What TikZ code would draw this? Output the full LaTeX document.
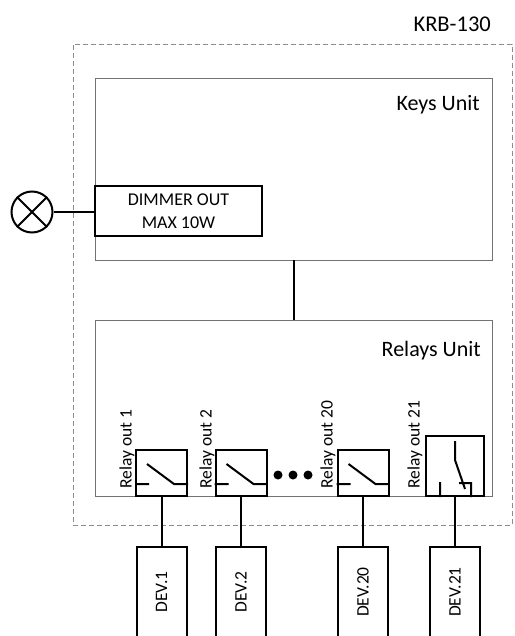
\documentclass[tikz,border=0pt]{standalone}
\usepackage{fontspec}
\setmainfont{Carlito}
\usetikzlibrary{calc}
\begin{document}
\begin{tikzpicture}[x=1pt,y=-1pt,
  thin box/.style={draw=black!55,line width=0.9pt,rectangle,inner sep=0pt},
  thick box/.style={draw=black,line width=2pt,rectangle,inner sep=0pt},
  wire/.style={draw=black,line width=2pt},
  small/.style={font=\fontsize{17.5}{20}\selectfont},
  title/.style={font=\fontsize{22}{26}\selectfont},
  vtext/.style={small,rotate=90,inner sep=0pt}]
\useasboundingbox (0,0) rectangle (514,636);
\clip (0,0) rectangle (514,636);
% outer dashed
\node[draw=black!45,line width=0.9pt,dash pattern=on 5pt off 3pt,rectangle,inner sep=0pt,
  minimum width=439pt,minimum height=481pt] (krb) at (292.5,284.5) {};
\node[font=\fontsize{22.5}{26}\selectfont,anchor=base east,inner sep=0pt] (krbl) at (491,32) {KRB-130};
% keys unit
\node[thin box,minimum width=397pt,minimum height=182pt] (keys) at (293.5,169) {};
\node[title,anchor=base east,inner sep=0pt] (keysl) at (480,111) {Keys Unit};
\node[thick box,minimum width=167pt,minimum height=50pt,align=center,font=\fontsize{18}{23}\selectfont] (dim) at (178.5,211) {DIMMER OUT\\MAX 10W};
% lamp
\node[draw=black,line width=2pt,circle,minimum size=41pt,inner sep=0pt] (lamp) at (32,212) {};
\draw[line width=2pt] (lamp.north east) -- (lamp.south west) (lamp.north west) -- (lamp.south east);
\draw[wire] (lamp.east) -- (lamp.east -| dim.west);
% relays unit
\node[thin box,minimum width=397pt,minimum height=176pt] (rel) at (293.5,408) {};
\node[title,anchor=base east,inner sep=0pt] (rell) at (481,356) {Relays Unit};
\draw[wire] (keys.south) -- (rel.north);
% normal relays
\foreach \n/\cx/\tx in {1/161.5/127, 2/241/207, 20/363/328} {
  \node[thick box,minimum width=51pt,minimum height=46pt] (r\n) at (\cx,473) {};
  \draw[line width=2pt] ($(r\n.south west)+(0,-13)$) -- ++(14,0)
     ($(r\n.south west)+(12,-33)$) -- ($(r\n.south west)+(39,-13)$) -- ($(r\n.south east)+(0,-13)$);
  \node[vtext,anchor=west] (t\n) at (\tx,489) {Relay out \n};
  \node[thick box,minimum width=50pt,minimum height=93pt] (d\n) at (\cx,593.5) {};
  \node[vtext] (dl\n) at (\cx,592) {DEV.\n};
  \draw[wire] (r\n.south) -- (d\n.north);
}
% dots
\foreach \i/\dx in {a/278, b/293, c/308}
  \node[circle,fill=black,minimum size=9pt,inner sep=0pt] (dot\i) at (\dx,475) {};
% relay 21
\node[thick box,minimum width=58pt,minimum height=60pt] (r21) at (455,466) {};
\draw[line width=2pt]
  ($(r21.south west)+(15,0)$) -- ++(0,-15)
  ($(r21.south west)+(30,-56)$) -- ++(0,19) -- ++(10,29)
  ($(r21.south west)+(34,-14)$) -- ++(12,0) -- ++(0,14);
\node[vtext,anchor=west] (t21) at (415,489) {Relay out 21};
\node[thick box,minimum width=50pt,minimum height=93pt] (d21) at (455,593.5) {};
\node[vtext] (dl21) at (455,592) {DEV.21};
\draw[wire] (r21.south) -- (d21.north);
\end{tikzpicture}
\end{document}
